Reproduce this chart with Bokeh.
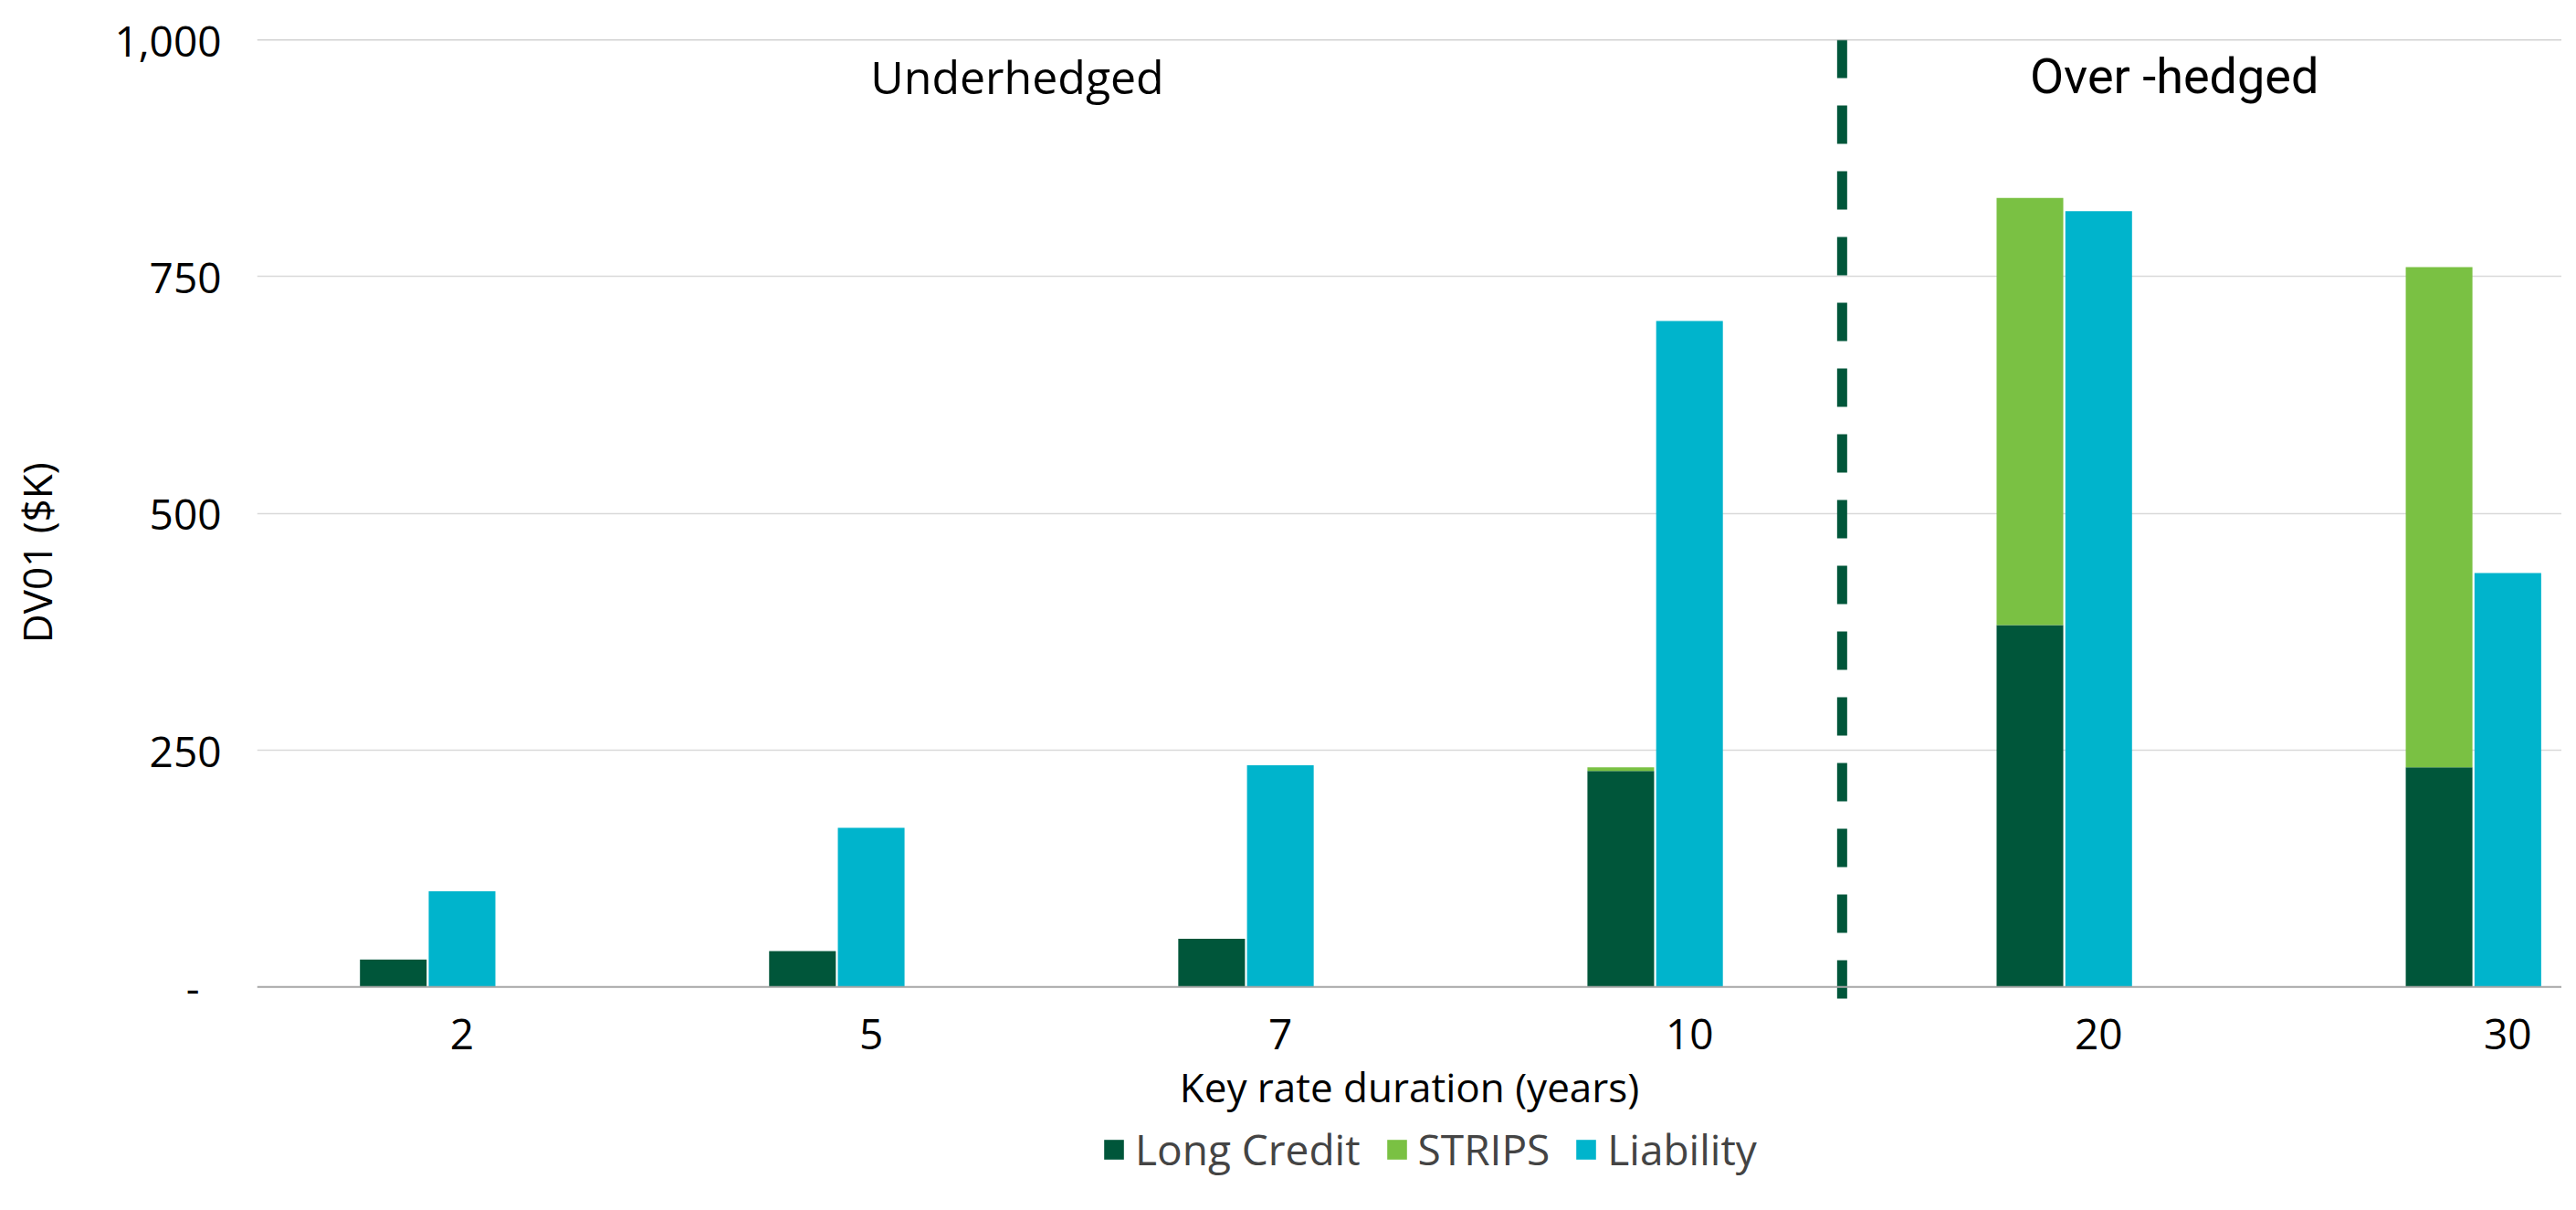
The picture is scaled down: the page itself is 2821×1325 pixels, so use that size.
from bokeh.plotting import figure
from bokeh.layouts import column
from bokeh.models import (ColumnDataSource, FixedTicker, Span, Label, Legend,
                          LegendItem, Range1d)
from bokeh.embed import file_html
from bokeh.resources import INLINE

# ---- data ----
categories = ["2", "5", "7", "10", "20", "30"]
long_credit = [29, 38, 51, 228, 382, 232]
strips = [0, 0, 0, 4, 451, 528]
liability = [101, 168, 234, 703, 819, 437]
y_ticks = [0, 250, 500, 750, 1000]
y_tick_labels = ["-\u00a0\u00a0", "250", "500", "750", "1,000"]
region_labels = ["Underhedged", "Over -hedged"]
series_names = ["Long Credit", "STRIPS", "Liability"]

DARK = "#00563A"
LIGHT = "#7AC143"
CYAN = "#00B4CC"
FONT = "Open Sans"

idx = list(range(len(categories)))
BW = 0.163
OFF = 0.168
src = ColumnDataSource(dict(
    xs=[i - OFF for i in idx],
    xl=[i for i in idx],
    lc=long_credit,
    st=strips,
    liab=liability,
))

W = 2805
LEFT = 281
p = figure(frame_width=W - LEFT, frame_height=1055, output_backend="svg",
           toolbar_location=None,
           x_range=Range1d(-0.501, 5.132), y_range=Range1d(-17, 1000),
           min_border_left=LEFT, min_border_right=0, min_border_top=43,
           min_border_bottom=0)
p.outline_line_color = None
p.background_fill_color = "white"
p.border_fill_color = "white"

stack = p.vbar_stack(["lc", "st"], x="xs", width=BW, source=src,
                     color=[DARK, LIGHT], line_color=None)
lr = p.vbar(x="xl", top="liab", width=BW, source=src, color=CYAN, line_color=None)

# grid / axes
p.xgrid.visible = False
p.ygrid.ticker = FixedTicker(ticks=[250, 500, 750])
p.ygrid.grid_line_color = "#d9d9d9"
p.ygrid.grid_line_width = 1.5
p.add_layout(Span(location=0, dimension="width", line_color="#a6a6a6", line_width=2))
p.add_layout(Span(location=1000, dimension="width", line_color="#a6a6a6", line_width=1.5))

p.yaxis.ticker = FixedTicker(ticks=y_ticks)
p.yaxis.major_label_overrides = {t: l for t, l in zip(y_ticks, y_tick_labels)}
p.xaxis.ticker = FixedTicker(ticks=idx)
p.xaxis.major_label_overrides = {i: c for i, c in zip(idx, categories)}
for ax in (p.xaxis, p.yaxis):
    ax.axis_line_color = None
    ax.major_tick_line_color = None
    ax.minor_tick_line_color = None
    ax.major_tick_out = 0
    ax.major_tick_in = 0
    ax.major_label_text_font = FONT
    ax.major_label_text_font_size = "46px"
    ax.major_label_text_color = "black"
    ax.axis_label_text_font = FONT
    ax.axis_label_text_font_size = "44px"
    ax.axis_label_text_font_style = "normal"
    ax.axis_label_text_color = "black"
p.yaxis.major_label_standoff = 39
p.xaxis.major_label_standoff = 17
p.xaxis.axis_label = "Key rate duration (years)"
p.xaxis.axis_label_standoff = 8
p.yaxis.axis_label = "DV01 ($K)" + "\u00a0" * 6
p.yaxis.axis_label_standoff = 52

# divider
p.line(x=[3.373, 3.373], y=[1000, -17], line_color=DARK, line_width=11,
       line_dash="42 30")

# region labels
p.add_layout(Label(x=1.357, y=961, text=region_labels[0], text_align="center",
                   text_baseline="alphabetic", text_font=FONT,
                   text_font_size="50px", text_color="black"))
p.add_layout(Label(x=4.185, y=961, text=region_labels[1], text_align="center",
                   text_baseline="alphabetic", text_font="Roboto",
                   text_font_size="54px", text_color="black"))

# legend in its own strip below the chart
LH = 85
lf = figure(width=W, height=LH, output_backend="svg", toolbar_location=None,
            x_range=Range1d(0, 1), y_range=Range1d(0, 1),
            min_border=0)
lf.axis.visible = False
lf.grid.visible = False
lf.outline_line_color = None
r1 = lf.vbar(x=[0.5], top=[0], bottom=[0], width=0.01, fill_color=DARK, line_color=None)
r2 = lf.vbar(x=[0.5], top=[0], bottom=[0], width=0.01, fill_color=LIGHT, line_color=None)
r3 = lf.vbar(x=[0.5], top=[0], bottom=[0], width=0.01, fill_color=CYAN, line_color=None)
legend = Legend(items=[LegendItem(label=series_names[0], renderers=[r1]),
                       LegendItem(label=series_names[1], renderers=[r2]),
                       LegendItem(label=series_names[2], renderers=[r3])],
                orientation="horizontal", location=(925, 18),
                label_text_font=FONT, label_text_font_size="46px",
                glyph_width=27, glyph_height=27, label_standoff=10, spacing=26,
                border_line_color=None, background_fill_alpha=0, padding=0,
                margin=0)
lf.add_layout(legend, "center")

layout = column(p, lf, spacing=0)
open("out.html", "w").write(file_html(layout, INLINE))
